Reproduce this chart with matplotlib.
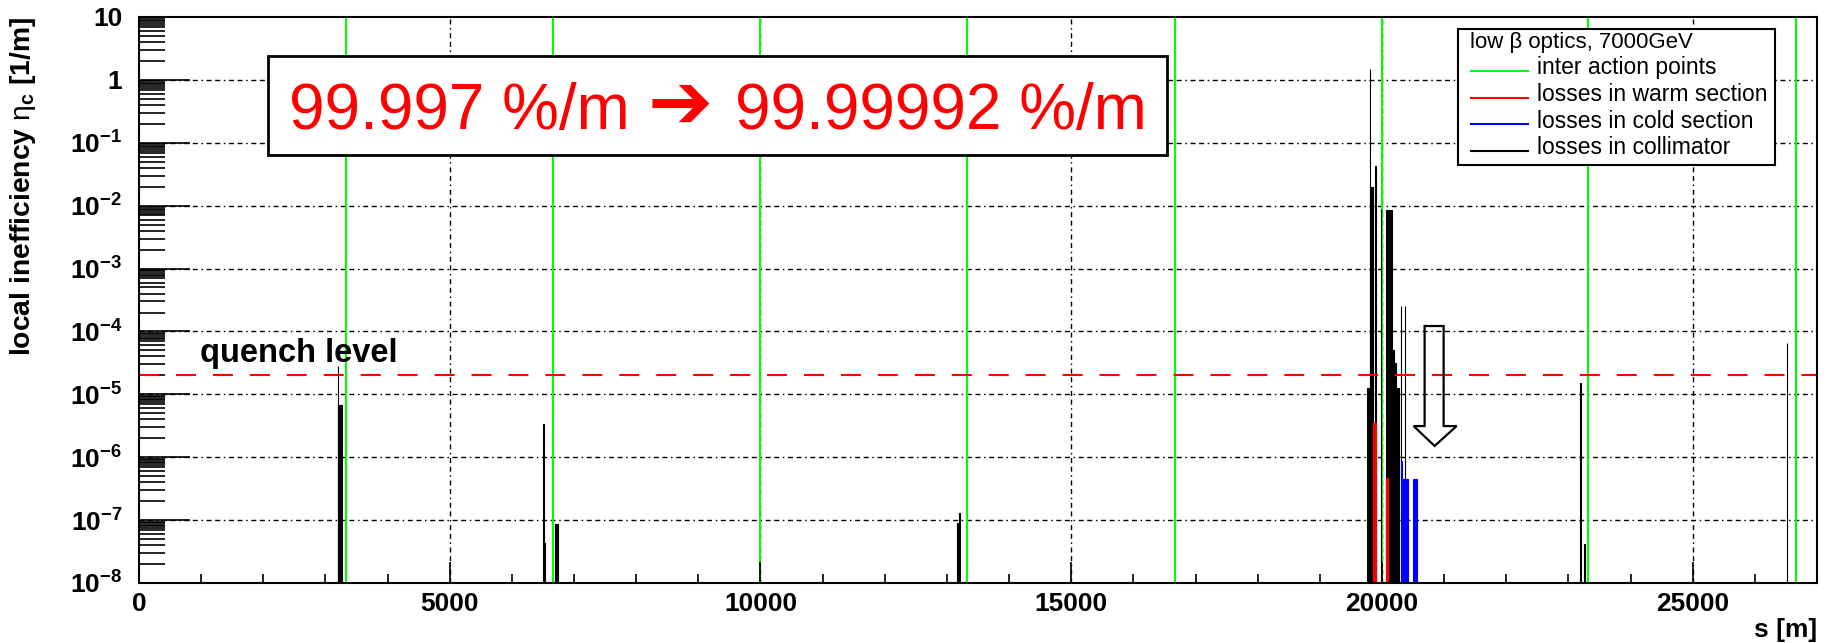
import numpy as np
import matplotlib
matplotlib.use("Agg")
import matplotlib.pyplot as plt
from matplotlib.patches import Polygon, Rectangle
from matplotlib.lines import Line2D
from matplotlib.ticker import LogLocator, MultipleLocator, NullFormatter

plt.rcParams['font.family'] = ['Liberation Sans', 'DejaVu Sans']
plt.rcParams['mathtext.fontset'] = 'custom'
plt.rcParams['mathtext.rm'] = 'Liberation Sans'
plt.rcParams['mathtext.bf'] = 'Liberation Sans:bold'
plt.rcParams['mathtext.it'] = 'Liberation Sans:italic'
plt.rcParams['lines.scale_dashes'] = False

# ---------------- data ----------------
ip_positions = [3332.4, 6664.7, 9997.1, 13329.4, 16661.8, 19994.2, 23315.4, 26658.9]

coll_left = [3195, 3210, 6505, 6520, 6700, 13170, 13200,
             19760, 19800, 19810, 19890, 19980, 20065, 20170, 20200, 20230,
             20300, 20365, 23180, 23255, 26510]
coll_width = [15, 50, 15, 15, 45, 30, 15,
              45, 12, 45, 12, 12, 100, 30, 30, 40,
              12, 12, 15, 15, 15]
coll_height = [2.8e-5, 6.7e-6, 3.4e-6, 4.3e-8, 8.7e-8, 8.9e-8, 1.28e-7,
               1.25e-5, 1.5, 1.95e-2, 4.2e-2, 9.0e-3, 8.5e-3, 5.0e-5, 3.2e-5, 1.24e-5,
               2.5e-4, 2.5e-4, 1.5e-5, 4.2e-8, 6.6e-5]

warm_left = [19855, 20065]
warm_width = [45, 30]
warm_height = [3.5e-6, 4.6e-7]

cold_left = [20300, 20320, 20500]
cold_width = [20, 100, 60]
cold_height = [8.6e-7, 4.5e-7, 4.5e-7]

quench_level = 2.0e-5

x_ticks = [0, 5000, 10000, 15000, 20000, 25000]
y_ticks = [1e-8, 1e-7, 1e-6, 1e-5, 1e-4, 1e-3, 1e-2, 1e-1, 1, 10]
y_ticklabels = [r'$\mathbf{10^{-8}}$', r'$\mathbf{10^{-7}}$', r'$\mathbf{10^{-6}}$',
                r'$\mathbf{10^{-5}}$', r'$\mathbf{10^{-4}}$', r'$\mathbf{10^{-3}}$',
                r'$\mathbf{10^{-2}}$', r'$\mathbf{10^{-1}}$', '1', '10']

legend_title = 'low β optics, 7000GeV'
legend_labels = ['inter action points', 'losses in warm section',
                 'losses in cold section', 'losses in collimator']
legend_colors = ['#00ff00', '#ff0000', '#0000ff', 'black']

box_text_left = '99.997 %/m'
box_arrow = '➔'
box_text_right = '99.99992 %/m'

# hollow arrow (annotation) geometry in data units
arrow_shaft = (20686, 20992)
arrow_head = (20509, 21201)
arrow_tip_x = 20847
arrow_y = (1.22e-4, 3.13e-6, 1.51e-6)  # top, head base, tip

XMIN, XMAX = 0, 27000
YMIN, YMAX = 1e-8, 10

# ---------------- figure ----------------
W, H = 1829, 643
AX_L, AX_R, AX_T, AX_B = 139, 1817, 17, 583
fig = plt.figure(figsize=(W / 100, H / 100), dpi=100)
ax = fig.add_axes([AX_L / W, 1 - AX_B / H, (AX_R - AX_L) / W, (AX_B - AX_T) / H])
ax.set_yscale('log')
ax.set_xlim(XMIN, XMAX)
ax.set_ylim(YMIN, YMAX)

def fx(px):
    return (px - AX_L) / (AX_R - AX_L)

def fy(py):
    return (AX_B - py) / (AX_B - AX_T)

grid_kw = dict(color='black', lw=1.0, dashes=(3.6, 2.6, 3.6, 2.6, 1.1, 2.6), zorder=0.5)
for xv in x_ticks[1:]:
    ax.axvline(xv, **grid_kw)
for yv in y_ticks[1:-1]:
    ax.axhline(yv, **grid_kw)

for xp in ip_positions:
    ax.axvline(xp, color='#00ff00', lw=1.5, zorder=1)

base = YMIN / 10
def draw_bars(left, width, height, color, z):
    ax.bar(left, [h - base for h in height], width=width, bottom=base, align='edge',
           color=color, edgecolor=color, lw=0.8, zorder=z)

draw_bars(coll_left, coll_width, coll_height, 'black', 2)
draw_bars(cold_left, cold_width, cold_height, '#0000ff', 2.5)
draw_bars(warm_left, warm_width, warm_height, '#ff0000', 2.6)

ax.axhline(quench_level, color='#ff0000', lw=1.5, dashes=(14.4, 12.2), zorder=3)
ax.text(fx(200), fy(362), 'quench level', transform=ax.transAxes, fontsize=23.5,
        fontweight='bold', va='baseline', ha='left', zorder=4)

# hollow arrow
t, hb, tip = arrow_y
verts = [(arrow_shaft[0], t), (arrow_shaft[1], t), (arrow_shaft[1], hb),
         (arrow_head[1], hb), (arrow_tip_x, tip), (arrow_head[0], hb),
         (arrow_shaft[0], hb)]
ax.add_patch(Polygon(verts, closed=True, fill=False, edgecolor='black', lw=1.6, zorder=4))

# text box
ax.add_patch(Rectangle((fx(268), fy(155)), fx(1167) - fx(268), fy(56) - fy(155),
                       transform=ax.transAxes, facecolor='white', edgecolor='black',
                       lw=2.0, zorder=5))
ax.text(fx(289), fy(129.3), box_text_left, transform=ax.transAxes, fontsize=46,
        color='#ff0000', ha='left', va='baseline', zorder=6)
ax.text(fx(680.5), fy(127.5), box_arrow, transform=ax.transAxes, fontsize=56,
        color='#ff0000', ha='center', va='baseline', zorder=6,
        family=['DejaVu Sans'])
ax.text(fx(735), fy(129.3), box_text_right, transform=ax.transAxes, fontsize=46,
        color='#ff0000', ha='left', va='baseline', zorder=6)

# legend (drawn as a box in axes coordinates)
ax.add_patch(Rectangle((fx(1458), fy(165)), fx(1775) - fx(1458), fy(29) - fy(165),
                       transform=ax.transAxes, facecolor='white', edgecolor='black',
                       lw=1.5, zorder=8))
ax.text(fx(1470), fy(48.3), legend_title, transform=ax.transAxes, fontsize=16,
        va='baseline', ha='left', zorder=9)
for i, (lab, col) in enumerate(zip(legend_labels, legend_colors)):
    base_y = 74.5 + 26.5 * i
    ax.add_line(Line2D([fx(1471), fx(1528)], [fy(base_y - 3.2)] * 2, color=col, lw=1.5,
                       transform=ax.transAxes, zorder=9))
    ax.text(fx(1537), fy(base_y), lab, transform=ax.transAxes, fontsize=16.5,
            va='baseline', ha='left', zorder=9)

# ticks
ax.set_xticks(x_ticks, [str(v) for v in x_ticks], fontsize=19, fontweight='bold')
ax.xaxis.set_minor_locator(MultipleLocator(1000))
ax.set_yticks(y_ticks, y_ticklabels, fontsize=19, fontweight='bold')
ax.yaxis.set_minor_locator(LogLocator(base=10, subs=[2, 3, 4, 5, 6, 7, 7.5, 8, 8.5, 9, 9.5],
                                      numticks=100))
ax.yaxis.set_minor_formatter(NullFormatter())
ax.tick_params(axis='y', which='major', direction='in', length=36.7, width=1.2, pad=12)
ax.tick_params(axis='y', which='minor', direction='in', length=18.7, width=1.2)
ax.tick_params(axis='x', which='major', direction='in', length=15, width=1.2, pad=6.5)
ax.tick_params(axis='x', which='minor', direction='in', length=6.5, width=1.2)
for sp in ax.spines.values():
    sp.set_linewidth(1.5)
    sp.set_zorder(7)

ax.set_ylabel(r'local inefficiency $\mathrm{\eta}_{\mathbf{c}}$ [1/m]', fontsize=20.3,
              fontweight='bold', loc='top')
ax.yaxis.set_label_coords(-0.060, 1.0)
ax.set_xlabel('s [m]', fontsize=19, fontweight='bold', loc='right')
ax.xaxis.set_label_coords(1.0, -0.062)

fig.savefig('out.png', dpi=100)
